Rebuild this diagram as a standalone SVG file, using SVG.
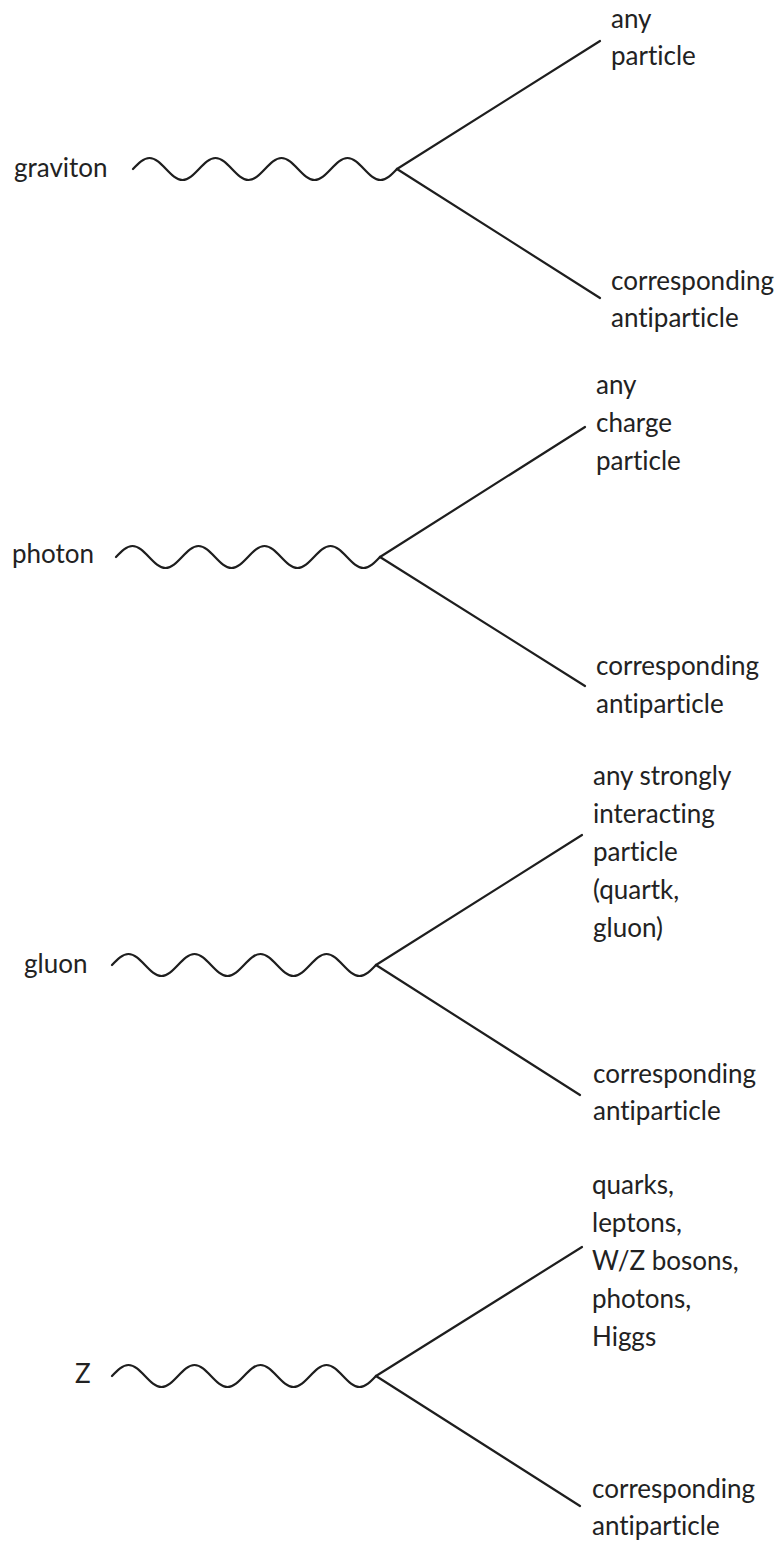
<svg xmlns="http://www.w3.org/2000/svg" xmlns:xlink="http://www.w3.org/1999/xlink" width="783" height="1543" viewBox="0 0 783 1543">
<style>
  .lbl { font-family: Lato, "Open Sans", "Liberation Sans", sans-serif; font-size: 26px; fill: #222; font-variant-ligatures: none; font-feature-settings: "liga" 0, "dlig" 0; }
  .wave { fill: none; stroke: #1e1e1e; stroke-width: 2.2; stroke-linecap: round; stroke-linejoin: round; }
  .leg { fill: none; stroke: #1e1e1e; stroke-width: 2.2; stroke-linecap: round; }
</style>
<defs>
  <path id="wv" class="wave" d="M0,0 c5.38,-5.64 10.53,-11 16.5,-11 s11.12,5.36 16.5,11 s10.53,11 16.5,11 s11.12,-5.36 16.5,-11 s10.53,-11 16.5,-11 s11.12,5.36 16.5,11 s10.53,11 16.5,11 s11.12,-5.36 16.5,-11 s10.53,-11 16.5,-11 s11.12,5.36 16.5,11 s10.53,11 16.5,11 s11.12,-5.36 16.5,-11 s10.53,-11 16.5,-11 s11.12,5.36 16.5,11 s10.53,11 16.5,11 s11.12,-5.36 16.5,-11"/>
</defs>
<rect width="783" height="1543" fill="#ffffff"/>

<g id="connectors">
  <use xlink:href="#wv" href="#wv" transform="translate(133,169)"/>
  <line class="leg" x1="397" y1="169" x2="600" y2="41"/>
  <line class="leg" x1="397" y1="169" x2="600" y2="298"/>

  <use xlink:href="#wv" href="#wv" transform="translate(116,557)"/>
  <line class="leg" x1="380" y1="557" x2="585" y2="427"/>
  <line class="leg" x1="380" y1="557" x2="585" y2="686"/>

  <use xlink:href="#wv" href="#wv" transform="translate(112,965)"/>
  <line class="leg" x1="376" y1="965" x2="582" y2="835"/>
  <line class="leg" x1="376" y1="965" x2="580" y2="1095"/>

  <use xlink:href="#wv" href="#wv" transform="translate(112,1376)"/>
  <line class="leg" x1="376" y1="1376" x2="582" y2="1247"/>
  <line class="leg" x1="376" y1="1376" x2="580" y2="1506"/>
</g>

<g id="graviton">
  <text class="lbl" x="14" y="177">graviton</text>
  <text class="lbl" x="611" y="28">any<tspan x="611" dy="37">particle</tspan></text>
  <text class="lbl" x="611" y="290">corresponding<tspan x="611" dy="37">antiparticle</tspan></text>
</g>

<g id="photon">
  <text class="lbl" x="12" y="563">photon</text>
  <text class="lbl" x="596" y="394">any<tspan x="596" dy="38">charge</tspan><tspan x="596" dy="38">particle</tspan></text>
  <text class="lbl" x="596" y="675">corresponding<tspan x="596" dy="38">antiparticle</tspan></text>
</g>

<g id="gluon">
  <text class="lbl" x="24" y="973">gluon</text>
  <text class="lbl" x="593" y="785">any strongly<tspan x="593" dy="38">interacting</tspan><tspan x="593" dy="38">particle</tspan><tspan x="593" dy="38">(quartk,</tspan><tspan x="593" dy="38">gluon)</tspan></text>
  <text class="lbl" x="593" y="1083">corresponding<tspan x="593" dy="37">antiparticle</tspan></text>
</g>

<g id="z">
  <text class="lbl" x="75" y="1383">Z</text>
  <text class="lbl" x="592" y="1194">quarks,<tspan x="592" dy="38">leptons,</tspan><tspan x="592" dy="38">W/Z bosons,</tspan><tspan x="592" dy="38">photons,</tspan><tspan x="592" dy="38">Higgs</tspan></text>
  <text class="lbl" x="592" y="1498">corresponding<tspan x="592" dy="37">antiparticle</tspan></text>
</g>
</svg>
